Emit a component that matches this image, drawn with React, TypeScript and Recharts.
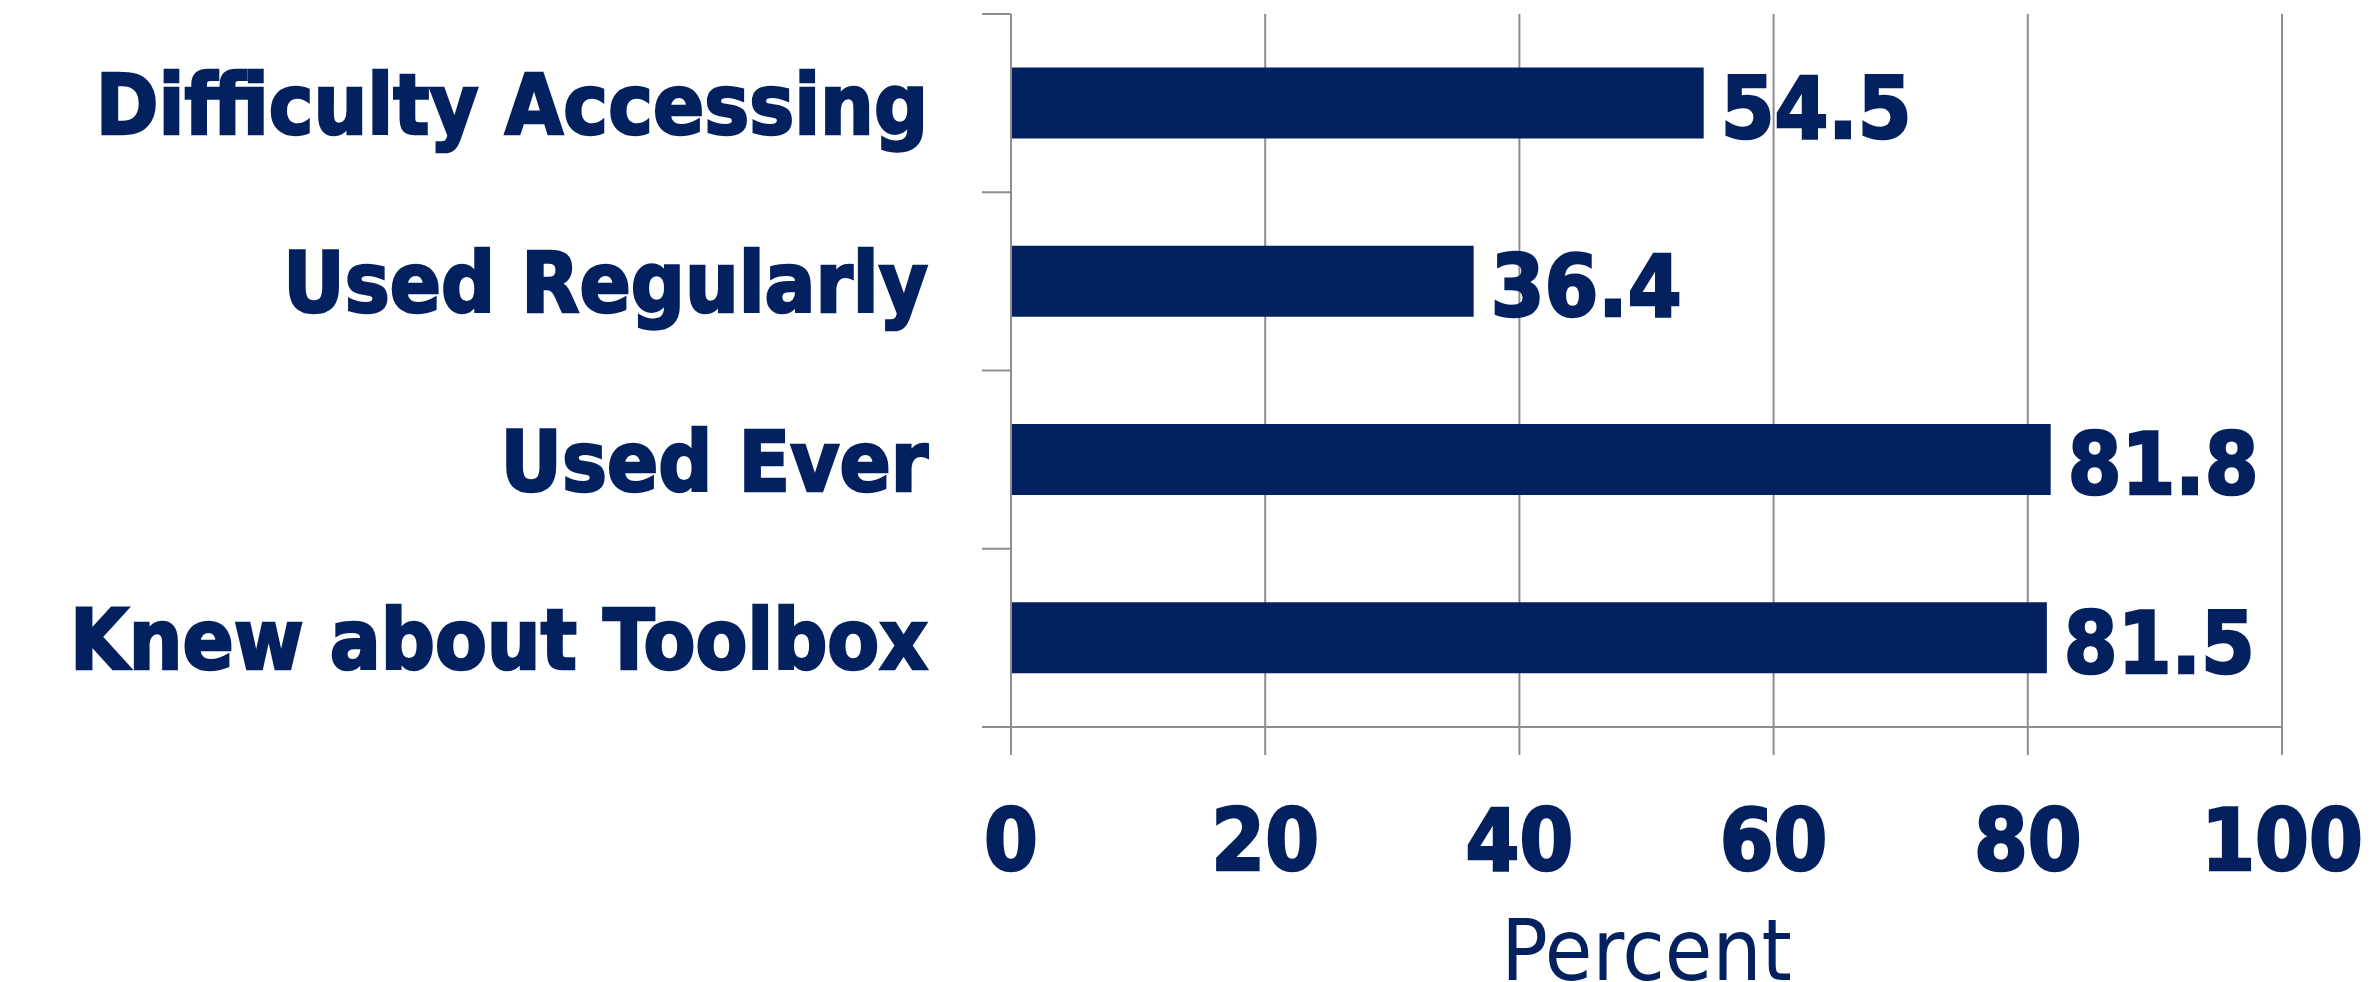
import { BarChart, Bar, XAxis, YAxis, CartesianGrid, LabelList } from 'recharts'

const categories = ['Difficulty Accessing', 'Used Regularly', 'Used Ever', 'Knew about Toolbox']
const percents = [54.5, 36.4, 81.8, 81.5]
const xTicks = [0, 20, 40, 60, 80, 100]

const data = categories.map((name, i) => ({ name, value: percents[i] }))

const NAVY = '#03205F'
const GRID = '#8E8E8E'
const FONT = "'DejaVu Sans Condensed', 'Liberation Sans', sans-serif"

const W = 2377
const H = 982
const TOP = 14
const X_AXIS_H = 255
const Y_AXIS_W = 1011
const RIGHT = 95
const BAND = (H - TOP - X_AXIS_H) / categories.length

// heavier bold, closer to the Tahoma Bold of the original
const heavy = { fill: NAVY, stroke: NAVY, strokeWidth: 2.5, fontFamily: FONT, fontWeight: 'bold' as const }

function CategoryTick(props: any) {
  const { x, y, payload, index } = props
  const lx = x + 53
  return (
    <g>
      <line x1={lx} x2={lx + 29} y1={y - BAND / 2} y2={y - BAND / 2} stroke={GRID} strokeWidth={2} />
      {index === categories.length - 1 && (
        <line x1={lx} x2={lx + 29} y1={y + BAND / 2} y2={y + BAND / 2} stroke={GRID} strokeWidth={2} />
      )}
      <text x={x - 1} y={y + 31} textAnchor="end" fontSize={84} {...heavy}>
        {payload.value}
      </text>
    </g>
  )
}

function ValueTick(props: any) {
  const { x, y, payload } = props
  return (
    <text x={x} y={y + 113} textAnchor="middle" fontSize={86} {...heavy}>
      {payload.value}
    </text>
  )
}

function ValueLabel(props: any) {
  const { x, y, width, height, value } = props
  return (
    <text x={x + width + 17} y={y + height / 2 + 35} fontSize={86} {...heavy}>
      {value}
    </text>
  )
}

function AxisTitle(props: any) {
  const { viewBox } = props
  return (
    <text x={viewBox.x + viewBox.width / 2} y={viewBox.y + 253} textAnchor="middle" fill={NAVY} fontFamily={FONT} fontSize={86}>
      Percent
    </text>
  )
}

export default function App() {
  return (
    <div style={{ position: 'absolute', left: 0, top: 0, background: '#fff' }}>
      <BarChart
        width={W}
        height={H}
        data={data}
        layout="vertical"
        margin={{ top: TOP, right: RIGHT, bottom: 0, left: 0 }}
        barCategoryGap="30%"
      >
        <CartesianGrid horizontal={false} stroke={GRID} strokeWidth={2} />
        <XAxis
          type="number"
          domain={[0, 100]}
          ticks={xTicks}
          interval={0}
          height={X_AXIS_H}
          stroke={GRID}
          strokeWidth={2}
          tickSize={28}
          tick={<ValueTick />}
          label={<AxisTitle />}
        />
        <YAxis
          type="category"
          dataKey="name"
          width={Y_AXIS_W}
          stroke={GRID}
          strokeWidth={2}
          tickLine={false}
          tickSize={29}
          tickMargin={53}
          interval={0}
          tick={<CategoryTick />}
        />
        <Bar dataKey="value" fill={NAVY} isAnimationActive={false}>
          <LabelList dataKey="value" content={<ValueLabel />} />
        </Bar>
      </BarChart>
    </div>
  )
}
